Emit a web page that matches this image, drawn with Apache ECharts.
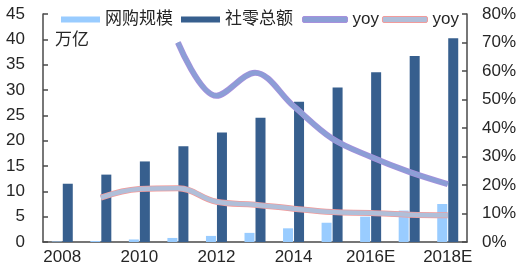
<!DOCTYPE html>
<html>
<head>
<meta charset="utf-8">
<script src="https://cdn.jsdelivr.net/npm/echarts@6/dist/echarts.min.js"></script>
<style>
html,body{margin:0;padding:0;background:#fff;}
#c{width:520px;height:270px;}
</style>
</head>
<body>
<div id="c"></div>
<script>
var categories = ['2008','2009','2010','2011','2012','2013','2014','2015','2016E','2017E','2018E'];
var onlineScale = [0.1, 0.2, 0.5, 0.8, 1.2, 1.8, 2.7, 3.8, 5.0, 6.2, 7.5];
var retailTotal = [11.5, 13.3, 15.9, 18.9, 21.6, 24.5, 27.7, 30.5, 33.5, 36.7, 40.2];
var onlineYoy = [null, null, null, 70, 51.3, 59.4, 47.7, 36.3, 29.9, 24.6, 20.3];
var retailYoy = [null, 15.6, 18.6, 18.9, 14.1, 13.1, 11.7, 10.5, 10.2, 9.6, 9.4];
var leftTicks = {min: 0, max: 45, interval: 5};
var rightTicks = {min: 0, max: 80, interval: 10};

var FONT = '"Liberation Sans", Arial, "Noto Sans CJK SC", sans-serif';
var TXT = '#262626';
var AX = '#4a4a4a';
var cLight = '#99ccff', cDark = '#375f8e';
var cYoy1 = '#8c9ed6', cYoy1b = '#a78fdc';
var cYoy2 = '#b0bfd9', cYoy2b = '#f29a9a';

var chart = echarts.init(document.getElementById('c'), null, {renderer: 'canvas'});
var option = {
  animation: false,
  backgroundColor: '#fff',
  textStyle: {fontFamily: FONT},
  grid: {left: 43, right: 53, top: 14, bottom: 28},
  legend: [{
    left: 56, top: 6, itemWidth: 39, itemHeight: 6, itemGap: 8,
    icon: 'rect',
    textStyle: {fontSize: 17, color: TXT, fontFamily: FONT},
    data: ['网购规模', '社零总额']
  }, {
    left: 297, top: 6, itemWidth: 45, itemHeight: 6, itemGap: 3,
    icon: 'roundRect',
    textStyle: {fontSize: 17, color: TXT, fontFamily: FONT},
    data: [
      {name: 'yoy', itemStyle: {color: cYoy1, borderColor: cYoy1b, borderWidth: 1}},
      {name: 'yoy ', itemStyle: {color: cYoy2, borderColor: cYoy2b, borderWidth: 1}}
    ]
  }],
  graphic: [{
    type: 'text', left: 55, top: 32,
    style: {text: '万亿', fontSize: 17, fill: TXT, fontFamily: FONT}
  }],
  xAxis: {
    type: 'category', data: categories, boundaryGap: true,
    axisLine: {lineStyle: {color: AX, width: 1.5}},
    axisTick: {inside: true, length: 5, interval: 0, lineStyle: {color: AX, width: 1.5}},
    axisLabel: {interval: 1, fontSize: 17, color: TXT, margin: 7, fontFamily: FONT},
    splitLine: {show: false}
  },
  yAxis: [{
    type: 'value', min: leftTicks.min, max: leftTicks.max, interval: leftTicks.interval,
    axisLine: {show: true, lineStyle: {color: AX, width: 1.5}},
    axisTick: {show: true, inside: true, length: 5, lineStyle: {color: AX, width: 1.5}},
    axisLabel: {fontSize: 17, color: TXT, margin: 18, fontFamily: FONT},
    splitLine: {show: false}
  }, {
    type: 'value', min: rightTicks.min, max: rightTicks.max, interval: rightTicks.interval,
    position: 'right',
    axisLine: {show: true, lineStyle: {color: AX, width: 1.5}},
    axisTick: {show: true, inside: true, length: 5, lineStyle: {color: AX, width: 1.5}},
    axisLabel: {fontSize: 17, color: TXT, margin: 15, formatter: '{value}%', fontFamily: FONT},
    splitLine: {show: false}
  }],
  series: [
    {name: '网购规模', type: 'bar', data: onlineScale, barWidth: 10, barGap: '10%',
     itemStyle: {color: cLight}},
    {name: '社零总额', type: 'bar', data: retailTotal, barWidth: 10,
     itemStyle: {color: cDark}},
    {name: '_o1', type: 'line', yAxisIndex: 1, data: onlineYoy, smooth: 0.35,
     symbol: 'none', lineStyle: {color: cYoy1b, width: 6}, z: 3},
    {name: 'yoy', type: 'line', yAxisIndex: 1, data: onlineYoy, smooth: 0.35,
     symbol: 'none', lineStyle: {color: cYoy1, width: 4.5}, itemStyle: {color: cYoy1}, z: 4},
    {name: '_o2', type: 'line', yAxisIndex: 1, data: retailYoy, smooth: 0.4,
     symbol: 'none', lineStyle: {color: cYoy2b, width: 6}, z: 3},
    {name: 'yoy ', type: 'line', yAxisIndex: 1, data: retailYoy, smooth: 0.4,
     symbol: 'none', lineStyle: {color: cYoy2, width: 4.5}, itemStyle: {color: cYoy2}, z: 4}
  ]
};
chart.setOption(option);
</script>
</body>
</html>
